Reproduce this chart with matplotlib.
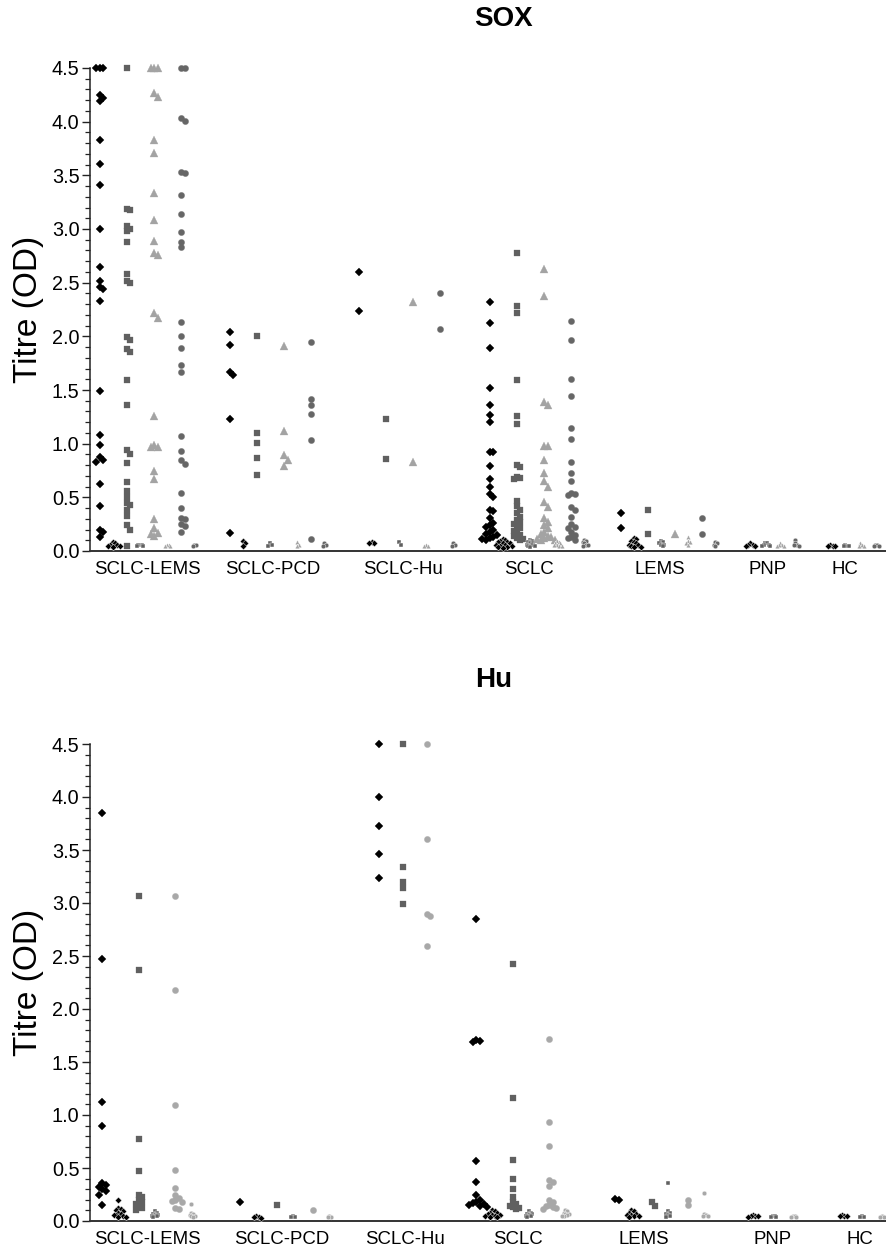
import matplotlib
matplotlib.use("Agg")
import matplotlib.pyplot as plt
from matplotlib.ticker import MultipleLocator, FormatStrFormatter

plt.rcParams["font.family"] = ["Liberation Sans", "DejaVu Sans"]

groups = ["SCLC-LEMS", "SCLC-PCD", "SCLC-Hu", "SCLC", "LEMS", "PNP", "HC"]

# ---- SOX panel: titres (OD), antibody-positive and negative columns per marker ----
sox_diamond_pos = {
    "SCLC-LEMS": [4.5, 4.5, 4.5, 4.25, 4.22, 4.19, 3.83, 3.61, 3.41, 3.0, 2.65, 2.52, 2.46, 2.44, 2.33,
                  1.49, 1.08, 0.99, 0.88, 0.85, 0.83, 0.62, 0.42, 0.2, 0.18, 0.13],
    "SCLC-PCD": [2.04, 1.92, 1.67, 1.64, 1.23, 0.17],
    "SCLC-Hu": [2.6, 2.24],
    "SCLC": [2.32, 2.12, 1.89, 1.52, 1.36, 1.27, 1.2, 0.92, 0.92, 0.79, 0.67, 0.6, 0.53, 0.5, 0.38, 0.37,
             0.31, 0.26, 0.24, 0.22, 0.2, 0.18, 0.16, 0.15, 0.13, 0.12, 0.11, 0.1],
    "LEMS": [0.35, 0.21],
}
sox_diamond_neg = {
    "SCLC-LEMS": [0.08, 0.07, 0.06, 0.06, 0.05, 0.05, 0.04],
    "SCLC-PCD": [0.09, 0.07, 0.05],
    "SCLC-Hu": [0.08, 0.07, 0.07],
    "SCLC": [0.11, 0.1, 0.09, 0.08, 0.08, 0.07, 0.07, 0.06, 0.06, 0.05, 0.05, 0.04, 0.04, 0.03],
    "LEMS": [0.12, 0.11, 0.09, 0.08, 0.07, 0.06, 0.06, 0.05, 0.04, 0.04],
    "PNP": [0.07, 0.06, 0.06, 0.05, 0.05],
    "HC": [0.06, 0.05, 0.05, 0.05],
}
sox_square_pos = {
    "SCLC-LEMS": [4.5, 3.19, 3.18, 3.03, 3.0, 2.98, 2.88, 2.58, 2.52, 2.5, 1.99, 1.97, 1.88, 1.85, 1.59,
                  1.36, 0.94, 0.9, 0.82, 0.64, 0.56, 0.5, 0.45, 0.43, 0.38, 0.33, 0.24, 0.2, 0.05],
    "SCLC-PCD": [2.0, 1.1, 1.01, 0.87, 0.71],
    "SCLC-Hu": [1.23, 0.86],
    "SCLC": [2.78, 2.28, 2.22, 1.59, 1.26, 1.18, 0.8, 0.78, 0.69, 0.68, 0.67, 0.47, 0.42, 0.38, 0.35,
             0.32, 0.29, 0.27, 0.25, 0.23, 0.21, 0.19, 0.17, 0.15, 0.14, 0.12, 0.11, 0.1],
    "LEMS": [0.38, 0.16],
}
sox_square_neg = {
    "SCLC-LEMS": [0.06, 0.06, 0.06, 0.05, 0.05],
    "SCLC-PCD": [0.07, 0.06, 0.05],
    "SCLC-Hu": [0.08, 0.06],
    "SCLC": [0.1, 0.09, 0.08, 0.07, 0.07, 0.06, 0.06, 0.05, 0.05, 0.04],
    "LEMS": [0.09, 0.08, 0.07, 0.06, 0.06, 0.05],
    "PNP": [0.07, 0.07, 0.06, 0.06, 0.05, 0.05],
    "HC": [0.06, 0.05, 0.05, 0.05],
}
sox_triangle_pos = {
    "SCLC-LEMS": [4.5, 4.5, 4.5, 4.27, 4.23, 3.83, 3.71, 3.34, 3.08, 2.89, 2.78, 2.76, 2.22, 2.17, 1.26,
                  0.99, 0.97, 0.97, 0.75, 0.67, 0.3, 0.21, 0.17, 0.16, 0.14],
    "SCLC-PCD": [1.91, 1.12, 0.89, 0.85, 0.79],
    "SCLC-Hu": [2.32, 0.83],
    "SCLC": [2.63, 2.38, 1.39, 1.36, 0.98, 0.98, 0.85, 0.73, 0.65, 0.6, 0.46, 0.41, 0.31, 0.27, 0.24,
             0.21, 0.18, 0.16, 0.14, 0.13, 0.12, 0.11, 0.1, 0.1],
    "LEMS": [0.155],
}
sox_triangle_neg = {
    "SCLC-LEMS": [0.06, 0.06, 0.05, 0.05],
    "SCLC-PCD": [0.08, 0.06, 0.05],
    "SCLC-Hu": [0.06, 0.05, 0.05],
    "SCLC": [0.09, 0.08, 0.07, 0.07, 0.06, 0.06, 0.05, 0.05],
    "LEMS": [0.13, 0.09, 0.08, 0.07, 0.06],
    "PNP": [0.07, 0.06, 0.06, 0.05, 0.05],
    "HC": [0.07, 0.06, 0.05, 0.05],
}
sox_circle_pos = {
    "SCLC-LEMS": [4.5, 4.5, 4.03, 4.01, 3.53, 3.52, 3.32, 3.14, 2.97, 2.88, 2.83, 2.13, 2.0, 1.89, 1.73,
                  1.67, 1.07, 0.93, 0.85, 0.81, 0.54, 0.4, 0.31, 0.3, 0.25, 0.23, 0.18],
    "SCLC-PCD": [1.95, 1.42, 1.36, 1.28, 1.03, 0.11],
    "SCLC-Hu": [2.4, 2.07],
    "SCLC": [2.14, 1.97, 1.6, 1.44, 1.15, 1.04, 0.83, 0.73, 0.65, 0.54, 0.53, 0.52, 0.41, 0.38, 0.32,
             0.25, 0.22, 0.21, 0.18, 0.15, 0.13, 0.12, 0.1],
    "LEMS": [0.31, 0.16],
}
sox_circle_neg = {
    "SCLC-LEMS": [0.06, 0.06, 0.05],
    "SCLC-PCD": [0.07, 0.06, 0.05],
    "SCLC-Hu": [0.07, 0.06, 0.05],
    "SCLC": [0.1, 0.09, 0.08, 0.07, 0.06, 0.06, 0.05],
    "LEMS": [0.08, 0.07, 0.06, 0.05],
    "PNP": [0.1, 0.07, 0.06, 0.06, 0.05],
    "HC": [0.06, 0.06, 0.05, 0.05],
}

# ---- Hu panel ----
hu_diamond_pos = {
    "SCLC-LEMS": [3.85, 2.47, 1.12, 0.9, 0.36, 0.34, 0.32, 0.3, 0.28, 0.25, 0.15],
    "SCLC-PCD": [0.18],
    "SCLC-Hu": [4.5, 4.0, 3.73, 3.46, 3.24],
    "SCLC": [2.85, 1.71, 1.7, 1.69, 0.57, 0.37, 0.25, 0.2, 0.18, 0.17, 0.16, 0.15, 0.14, 0.13],
    "LEMS": [0.21, 0.2],
}
hu_diamond_neg = {
    "SCLC-LEMS": [0.2, 0.12, 0.11, 0.1, 0.09, 0.08, 0.07, 0.06, 0.06, 0.05, 0.04, 0.04],
    "SCLC-PCD": [0.05, 0.04, 0.04, 0.03],
    "SCLC": [0.1, 0.09, 0.08, 0.08, 0.07, 0.06, 0.06, 0.05, 0.05, 0.04, 0.04],
    "LEMS": [0.1, 0.09, 0.08, 0.07, 0.06, 0.06, 0.05, 0.05, 0.04],
    "PNP": [0.06, 0.05, 0.05, 0.05, 0.04],
    "HC": [0.06, 0.05, 0.05, 0.05],
}
hu_square_pos = {
    "SCLC-LEMS": [3.07, 2.37, 0.77, 0.47, 0.25, 0.23, 0.2, 0.18, 0.16, 0.14, 0.12, 0.1],
    "SCLC-PCD": [0.15],
    "SCLC-Hu": [4.5, 3.34, 3.2, 3.14, 2.99],
    "SCLC": [2.42, 1.16, 0.58, 0.4, 0.3, 0.23, 0.18, 0.16, 0.14, 0.13, 0.12, 0.11],
    "LEMS": [0.18, 0.14],
}
hu_square_neg = {
    "SCLC-LEMS": [0.09, 0.08, 0.07, 0.06, 0.06, 0.05, 0.05, 0.04],
    "SCLC-PCD": [0.05, 0.04, 0.04],
    "SCLC": [0.09, 0.08, 0.07, 0.07, 0.06, 0.05, 0.05, 0.04],
    "LEMS": [0.36, 0.09, 0.08, 0.07, 0.06, 0.05, 0.04],
    "PNP": [0.05, 0.05, 0.04, 0.04],
    "HC": [0.05, 0.04, 0.04],
}
hu_circle_pos = {
    "SCLC-LEMS": [3.07, 2.18, 1.09, 0.48, 0.31, 0.25, 0.22, 0.2, 0.19, 0.18, 0.12, 0.11],
    "SCLC-PCD": [0.1],
    "SCLC-Hu": [4.5, 3.6, 2.9, 2.88, 2.59],
    "SCLC": [1.72, 0.93, 0.71, 0.39, 0.37, 0.33, 0.2, 0.18, 0.15, 0.14, 0.13, 0.12, 0.11],
    "LEMS": [0.2, 0.15],
}
hu_circle_neg = {
    "SCLC-LEMS": [0.16, 0.08, 0.07, 0.06, 0.05, 0.05, 0.04],
    "SCLC-PCD": [0.05, 0.04, 0.04],
    "SCLC": [0.1, 0.09, 0.08, 0.07, 0.07, 0.06, 0.05, 0.05],
    "LEMS": [0.26, 0.07, 0.06, 0.05, 0.05],
    "PNP": [0.05, 0.05, 0.04, 0.04],
    "HC": [0.05, 0.04, 0.04],
}

# layout (x axis in pixel-like units measured from the y axis)
W, H = 887, 1255
sox_centers = [57, 187, 316, 447, 578, 683, 763]
sox_label_x = [57, 183, 313, 439, 570, 678, 755]
hu_centers = [57, 195, 313, 431, 570, 683, 772]
hu_label_x = [57, 192, 315, 428, 554, 683, 770]

PX = 100 / 72.0  # px per point


def swarm(vals, d, ypx):
    step = 0.5 * d
    h = 0.8 * d
    placed = []
    res = [0.0] * len(vals)
    for i in sorted(range(len(vals)), key=lambda j: -vals[j]):
        y = vals[i] * ypx
        k = 0
        while True:
            c = ((k + 1) // 2) * step * (1 if k % 2 == 1 else -1)
            if all(abs(y - py) >= h or abs(c - px) >= step * 0.99 for px, py in placed):
                break
            k += 1
        placed.append((c, y))
        res[i] = c
    return res


def draw(ax, specs, centers, ypx, type_sp, pn, pos_only_sp, neg_only_sp):
    n = len(specs)
    for gi, g in enumerate(groups):
        has_pos = any(len(s[3].get(g, [])) for s in specs)
        has_neg = any(len(s[4].get(g, [])) for s in specs)
        for ti, (mk, col, ms, pos, neg) in enumerate(specs):
            if has_pos and has_neg:
                tc = centers[gi] + (ti - (n - 1) / 2) * type_sp
                xp, xn = tc - pn, tc + pn
            else:
                sp = pos_only_sp if has_pos else neg_only_sp
                xp = xn = centers[gi] + (ti - (n - 1) / 2) * sp
            scale = 1.414 if mk == "D" else 1.0
            vals = pos.get(g, [])
            if vals:
                offs = swarm(vals, ms * scale * PX, ypx)
                ax.plot([xp + o for o in offs], vals, ls="none", marker=mk, ms=ms, color=col,
                        mec=col, mew=0.2, clip_on=False, zorder=3)
            vals = neg.get(g, [])
            if vals:
                nms = 3.4
                offs = swarm(vals, nms * scale * PX * 0.7, ypx)
                ax.plot([xn + o for o in offs], vals, ls="none", marker=mk, ms=nms, color=col,
                        mec="white", mew=0.3, clip_on=False, zorder=3)


def style(ax, label_x):
    ax.set_xlim(0, W - 90)
    ax.set_ylim(0, 4.5)
    for s in ("top", "right"):
        ax.spines[s].set_visible(False)
    ax.spines["left"].set_linewidth(1.1)
    ax.spines["left"].set_color("#222222")
    ax.spines["bottom"].set_linewidth(1.4)
    ax.spines["bottom"].set_color("#333333")
    ax.yaxis.set_major_locator(MultipleLocator(0.5))
    ax.yaxis.set_minor_locator(MultipleLocator(0.1))
    ax.yaxis.set_major_formatter(FormatStrFormatter("%.1f"))
    ax.tick_params(axis="y", which="major", length=6, width=1.0, pad=1.5, labelsize=14.3,
                   color="#222222")
    ax.tick_params(axis="y", which="minor", length=3.3, width=0.9, color="#222222")
    ax.set_xticks(label_x)
    ax.set_xticklabels(groups)
    ax.tick_params(axis="x", length=0, pad=7, labelsize=13.4)


fig = plt.figure(figsize=(W / 100, H / 100), dpi=100)

# SOX
top0, top45 = 551, 68
ax1 = fig.add_axes([90 / W, 1 - top0 / H, (W - 90) / W, (top0 - top45) / H])
sox_specs = [
    ("D", "#000000", 3.8, sox_diamond_pos, sox_diamond_neg),
    ("s", "#606060", 4.7, sox_square_pos, sox_square_neg),
    ("^", "#a3a3a3", 5.2, sox_triangle_pos, sox_triangle_neg),
    ("o", "#666666", 4.5, sox_circle_pos, sox_circle_neg),
]
draw(ax1, sox_specs, sox_centers, (top0 - top45) / 4.5, 27.3, 6.5, 20, 15)
style(ax1, sox_label_x)

# Hu
bot0, bot45 = 1221, 744
ax2 = fig.add_axes([90 / W, 1 - bot0 / H, (W - 90) / W, (bot0 - bot45) / H])
hu_specs = [
    ("D", "#000000", 3.7, hu_diamond_pos, hu_diamond_neg),
    ("s", "#606060", 4.4, hu_square_pos, hu_square_neg),
    ("o", "#a8a8a8", 4.5, hu_circle_pos, hu_circle_neg),
]
draw(ax2, hu_specs, hu_centers, (bot0 - bot45) / 4.5, 36.5, 8, 24, 20)
style(ax2, hu_label_x)

fig.text(503 / W, 1 - 19 / H, "SOX", ha="center", va="center", fontsize=20, fontweight="bold")
fig.text(494 / W, 1 - 680 / H, "Hu", ha="center", va="center", fontsize=20, fontweight="bold")
fig.text(29 / W, 1 - (top0 + top45) / 2 / H, "Titre (OD)", rotation=90, ha="center", va="center",
         fontsize=24)
fig.text(29 / W, 1 - (bot0 + bot45) / 2 / H, "Titre (OD)", rotation=90, ha="center", va="center",
         fontsize=24)

fig.savefig("out.png", dpi=100)
